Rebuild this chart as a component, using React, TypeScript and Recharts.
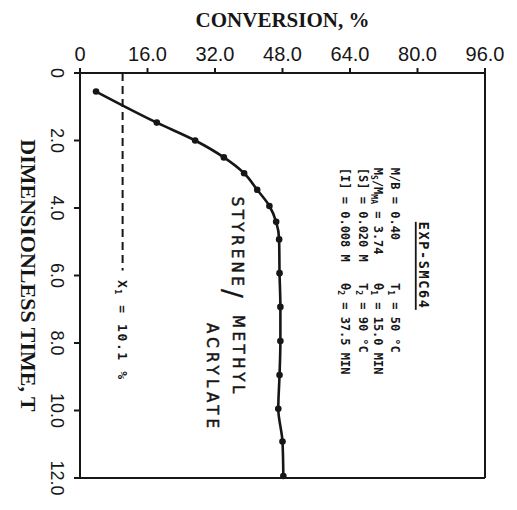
import React from "react";
import { LineChart, Line, XAxis, YAxis, ReferenceLine, ReferenceDot } from "recharts";

// Dimensionless time T (runs down the page) against monomer conversion, %
const timeValues = [0.55, 1.47, 2.0, 2.5, 2.97, 3.46, 3.94, 4.41, 4.93, 5.93, 6.93, 7.94, 8.95, 9.95, 10.92, 11.94];
const conversionValues = [3.8, 18.2, 27.3, 34.1, 38.9, 42.0, 44.9, 46.5, 47.2, 47.3, 47.5, 47.5, 47.3, 47.0, 48.0, 48.2];

const conversionTicks = [0, 16, 32, 48, 64, 80, 96];
const timeTicks = [0, 2, 4, 6, 8, 10, 12];

// conversion at the temperature switch, and how far down its guide runs
const switchConversion = 10.1;
const switchGuideEnd = 5.85;

const INK = "#161616";
const SERIF = "'Liberation Serif', 'Times New Roman', serif";
const SANS = "'Liberation Sans', Arial, sans-serif";
const HAND = "'DejaVu Sans', sans-serif";
const MONO = "'DejaVu Sans Mono', 'Liberation Mono', monospace";

const curve = timeValues.map((t, i) => ({ time: t, conversion: conversionValues[i] }));

const tickText = (v: number) => (v === 0 ? "0" : v.toFixed(1));

const ConversionTick = ({ x, y, payload }: any) => (
  <text x={x} y={y} textAnchor="middle" fontFamily={SANS} fontSize={20} fill={INK}>
    {tickText(payload.value)}
  </text>
);

const TimeTick = ({ x, y, payload }: any) => (
  <text
    x={x}
    y={y}
    transform={`rotate(90 ${x} ${y})`}
    textAnchor="middle"
    dominantBaseline="central"
    fontFamily={SANS}
    fontSize={18}
    fill={INK}
  >
    {tickText(payload.value)}
  </text>
);

// text written down the page, anchored at a ReferenceDot
const Vertical = ({ viewBox, children, size = 12, family = MONO, weight = "bold", spacing = 0, underline = 0, heavy = 0 }: any) => {
  const { x, y } = viewBox;
  return (
    <g transform={`rotate(90 ${x} ${y})`}>
      <text
        x={x}
        y={y}
        fontFamily={family}
        fontSize={size}
        fontWeight={weight}
        letterSpacing={spacing}
        fill={INK}
        stroke={heavy ? INK : "none"}
        strokeWidth={heavy}
      >
        {children}
      </text>
      {underline > 0 && <line x1={x} x2={x + underline} y1={y + 3} y2={y + 3} stroke={INK} strokeWidth={1.8} />}
    </g>
  );
};

// subscript followed by text back on the baseline
const sub = (s: string, rest: string) => [
  <tspan key="s" dy={3} fontSize={8}>{s}</tspan>,
  <tspan key="r" dy={-3}>{rest}</tspan>,
];

const Note = ({ c, t, ...rest }: any) => (
  <ReferenceDot x={c} y={t} r={0} fill="none" stroke="none" ifOverflow="visible" label={<Vertical {...rest} />} />
);

export default function App() {
  return (
    <div style={{ position: "absolute", left: 0, top: 0, background: "#fff" }}>
      <LineChart
        width={517}
        height={510}
        layout="vertical"
        data={curve}
        margin={{ top: 0, right: 32, bottom: 32, left: 0 }}
      >
        <XAxis
          type="number"
          dataKey="conversion"
          orientation="top"
          domain={[0, 96]}
          ticks={conversionTicks}
          height={73}
          tickSize={5}
          tickMargin={7}
          tick={<ConversionTick />}
          axisLine={{ stroke: INK, strokeWidth: 2 }}
          tickLine={{ stroke: INK, strokeWidth: 2 }}
          label={({ viewBox }: any) => (
            <text
              x={viewBox.x + viewBox.width / 2}
              y={viewBox.y + 27}
              textAnchor="middle"
              fontFamily={SERIF}
              fontWeight="bold"
              fontSize={21}
              fill={INK}
            >
              CONVERSION, %
            </text>
          )}
        />
        <YAxis
          type="number"
          dataKey="time"
          domain={[0, 12]}
          ticks={timeTicks}
          width={80}
          tickSize={6}
          tickMargin={17}
          tick={<TimeTick />}
          axisLine={{ stroke: INK, strokeWidth: 2 }}
          tickLine={{ stroke: INK, strokeWidth: 2 }}
          label={({ viewBox }: any) => {
            const x = viewBox.x + 28;
            const y = viewBox.y + viewBox.height / 2;
            return (
              <text
                x={x}
                y={y}
                transform={`rotate(90 ${x} ${y})`}
                textAnchor="middle"
                dominantBaseline="central"
                fontFamily={SERIF}
                fontWeight="bold"
                fontSize={22}
                fill={INK}
              >
                DIMENSIONLESS TIME, T
              </text>
            );
          }}
        />

        {/* frame on the right and bottom */}
        <ReferenceLine x={96} stroke={INK} strokeWidth={2} />
        <ReferenceLine y={12} stroke={INK} strokeWidth={2} />

        <ReferenceLine
          segment={[
            { x: switchConversion, y: 0 },
            { x: switchConversion, y: switchGuideEnd },
          ]}
          stroke={INK}
          strokeWidth={2}
          strokeDasharray="8 5"
        />

        <Line
          type="monotone"
          dataKey="conversion"
          stroke={INK}
          strokeWidth={2.6}
          dot={{ r: 3.3, fill: INK, stroke: INK, strokeWidth: 0 }}
          activeDot={false}
          isAnimationActive={false}
        />

        <Note c={9.0} t={6.13} size={13} spacing={1.6}>
          X{sub("1", " = 10.1 %")}
        </Note>

        {/* hand-lettered monomer pair */}
        <Note c={36.0} t={3.67} family={HAND} weight="normal" size={15} spacing={3.4} heavy={0.5}>
          STYRENE
        </Note>
        <Note c={34.0} t={6.4} family={HAND} weight="normal" size={26} heavy={0.3}>
          /
        </Note>
        <Note c={36.3} t={7.17} family={HAND} weight="normal" size={15} spacing={3.6} heavy={0.5}>
          METHYL
        </Note>
        <Note c={30.1} t={7.41} family={HAND} weight="normal" size={15} spacing={4.2} heavy={0.5}>
          ACRYLATE
        </Note>

        <Note c={80.3} t={4.41} size={13.5} spacing={1.6} underline={88}>
          EXP-SMC64
        </Note>

        <Note c={73.8} t={2.81}>M/B = 0.40</Note>
        <Note c={69.8} t={2.81}>
          M{sub("S", "/M")}{sub("MA", " = 3.74")}
        </Note>
        <Note c={66.1} t={2.81}>[S] = 0.020 M</Note>
        <Note c={61.9} t={2.81}>[I] = 0.008 M</Note>

        <Note c={73.8} t={6.22}>
          T{sub("1", " = 50 °C")}
        </Note>
        <Note c={69.8} t={6.22}>
          θ{sub("1", " = 15.0 MIN")}
        </Note>
        <Note c={66.1} t={6.22}>
          T{sub("2", " = 90 °C")}
        </Note>
        <Note c={61.9} t={6.22}>
          θ{sub("2", " = 37.5 MIN")}
        </Note>
      </LineChart>
    </div>
  );
}
